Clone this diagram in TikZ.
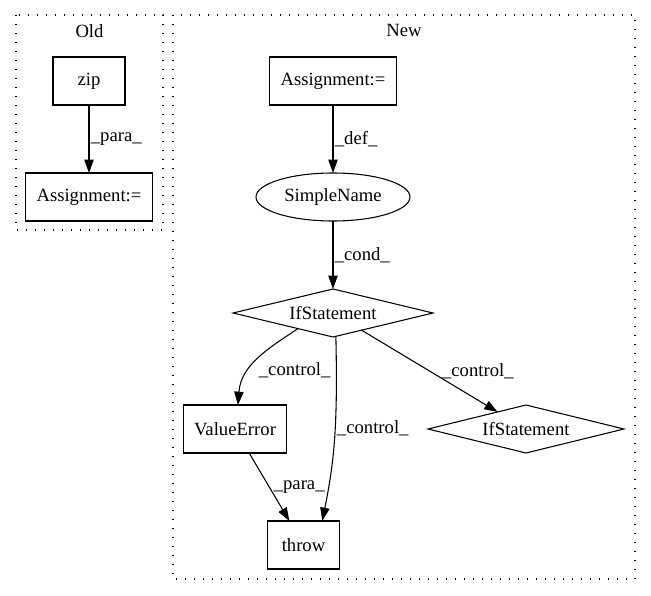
\documentclass[tikz,border=0pt]{standalone}
\usepackage{fontspec}
\setmainfont{Liberation Serif}
\usepackage{tikz}
\usetikzlibrary{shapes, arrows.meta, positioning}

\begin{document}
\begin{tikzpicture}[
	x=0.75pt, y=0.75pt,
	>={Triangle[length=10pt, width=7pt]},
	font=\fontsize{14}{16}\selectfont,
	line width=0.8pt,
	box/.style={draw, rectangle, minimum height=36pt, minimum width=54pt, inner xsep=8pt, outer sep=0pt, align=center},
	oval/.style={draw, ellipse, minimum height=36pt, minimum width=115.5pt, inner sep=0pt, outer sep=0pt},
	cond/.style={draw, diamond, aspect=4.17, minimum height=36pt, minimum width=150pt, inner sep=0pt, outer sep=0pt},
	lbl/.style={inner sep=1pt, anchor=west},
	cluster/.style={dash pattern=on 1pt off 5.75pt}
	]
	\useasboundingbox (0,0) rectangle (651,-596);
	
	% --- Klastry (Old / New) ---
	\draw[cluster] (16,-15) rectangle (163,-230);
	\draw[cluster] (173,-15) rectangle (635,-579);
	\node (oldlabel) at (89.5,-31) {Old};
	\node (newlabel) at (404,-30) {New};
	
	% --- Węzły: Old ---
	\node[box] (zip) at (89,-81) {zip};
	\node[box, below=51pt of zip] (oldassign) {Assignment:=};
	
	% --- Węzły: New ---
	\node[box] (newassign) at (333,-81) {Assignment:=};
	\node[oval, below=51pt of newassign] (simplename) {SimpleName};
	\node[cond, below=51pt of simplename] (ifmain) {IfStatement};
	\node[box, below=51pt of ifmain, xshift=-73.5pt] (valerr) {ValueError};
	\node[cond, below=51pt of ifmain, xshift=144.75pt, minimum width=147pt] (ifinner) {IfStatement};
	\node[box, below=51pt of valerr, xshift=51.4pt] (throw) {throw};
	
	% --- Krawędzie ---
	\draw[->] (zip) -- node[lbl] {\_para\_} (oldassign);
	\draw[->] (newassign) -- node[lbl] {\_def\_} (simplename);
	\draw[->] (simplename) -- node[lbl] {\_cond\_} (ifmain);
	\draw[->] (ifmain.204) .. controls +(-30,-20) and +(3,40) .. node[lbl, pos=0.65, xshift=6pt] {\_control\_} (valerr.83);
	\draw[->] (ifmain.-83) .. controls +(2,-90) and +(12,60) .. node[lbl, pos=0.43] {\_control\_} (throw.52);
	\draw[->] (ifmain) -- node[lbl, xshift=8pt] {\_control\_} (ifinner);
	\draw[->] (valerr) -- node[lbl, xshift=2pt] {\_para\_} (throw);
	
\end{tikzpicture}
\end{document}
